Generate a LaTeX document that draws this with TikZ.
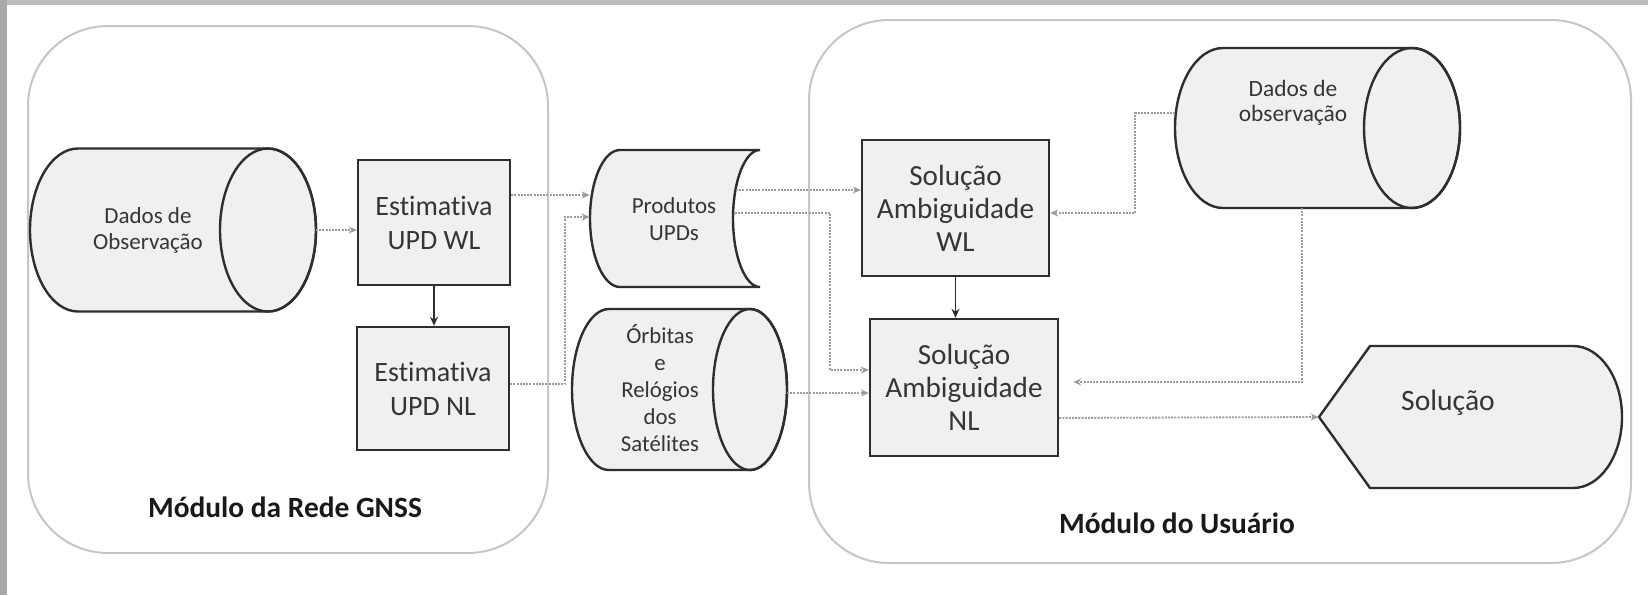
\documentclass[tikz,border=0pt]{standalone}
\usepackage{fontspec}
\setmainfont{Carlito}[Ligatures=NoCommon]
\usetikzlibrary{arrows.meta,calc}
\definecolor{shapefill}{HTML}{F0F0F0}
\definecolor{shapeline}{HTML}{2E2E2E}
\definecolor{conn}{HTML}{9C9C9C}
\definecolor{modline}{HTML}{C6C6C6}
\definecolor{frametop}{HTML}{BDBDBD}
\definecolor{frameleft}{HTML}{A9A9A9}
\definecolor{txt}{HTML}{353535}
\begin{document}
\begin{tikzpicture}[x=0.5pt,y=0.5pt,
  shapestyle/.style={fill=shapefill, draw=shapeline, line width=1.2pt},
  outline/.style={draw=shapeline, line width=1.2pt},
  boxnode/.style={shapestyle, rectangle, align=center, text=txt, inner sep=0pt},
  hold/.style={draw=none, inner sep=0pt, rectangle},
  lbl/.style={align=center, text=txt, inner sep=0pt},
  dotarrow/.style={draw=conn, line width=0.9pt, dash pattern=on 1pt off 0.6pt, -{Stealth[length=4pt,width=3.5pt]}},
  solidarrow/.style={draw=shapeline, line width=0.8pt, -{Stealth[length=4.5pt,width=4pt]}},
  module/.style={draw=modline, line width=1pt, rounded corners=40pt, rectangle, inner sep=0pt},
  modlabel/.style={font=\bfseries\fontsize{14.7}{16}\selectfont, text=black!90, anchor=base, inner sep=0pt}
]
\useasboundingbox (0,0) rectangle (1648,-595);
% frame
\fill[white] (0,0) rectangle (1648,-595);
\fill[frametop] (0,0) rectangle (1648,-5);
\fill[frameleft] (0,0) rectangle (7,-595);

% modules
\node[module, minimum width=260pt, minimum height=263.5pt] (modL) at (288,-289.5) {};
\node[module, minimum width=411pt, minimum height=271.5pt] (modR) at (1220,-291.5) {};
\node[modlabel] (modLlbl) at (285,-517) {Módulo da Rede GNSS};
\node[modlabel] (modRlbl) at (1177,-533) {Módulo do Usuário};

% left cylinder: Dados de Observacao
\filldraw[shapestyle] (78,-148.5) -- (268,-148.5) arc[start angle=90,end angle=-90,x radius=48,y radius=81.5] -- (78,-311.5) arc[start angle=270,end angle=90,x radius=48,y radius=81.5] -- cycle;
\draw[outline] (268,-230) ellipse [x radius=48,y radius=81.5];
\node[hold, minimum width=143pt, minimum height=81.5pt] (dobs) at (173,-230) {};
\node[lbl, font=\fontsize{11.5}{13}\selectfont] (dobstxt) at (148,-230) {Dados de\\Observação};

% Produtos UPDs
\filldraw[shapestyle] (620,-150) -- (760,-150) arc[start angle=90,end angle=270,x radius=27,y radius=68.5] -- (620,-287) arc[start angle=270,end angle=90,x radius=30,y radius=68.5] -- cycle;
\node[hold, minimum width=85pt, minimum height=68.5pt] (prod) at (675,-218.5) {};
\node[lbl, font=\fontsize{11.5}{13.5}\selectfont] (prodtxt) at (674,-219) {Produtos\\UPDs};

% Orbitas cylinder
\filldraw[shapestyle] (609,-309) -- (750,-309) arc[start angle=90,end angle=-90,x radius=37,y radius=80.5] -- (609,-470) arc[start angle=270,end angle=90,x radius=37,y radius=80.5] -- cycle;
\draw[outline] (750,-389.5) ellipse [x radius=37,y radius=80.5];
\node[hold, minimum width=107.5pt, minimum height=80.5pt] (orb) at (679.5,-389.5) {};
\node[lbl, font=\fontsize{11.4}{13.5}\selectfont] (orbtxt) at (660,-388) {Órbitas\\e\\Relógios\\dos\\Satélites};

% right cylinder
\filldraw[shapestyle] (1223,-48) -- (1412,-48) arc[start angle=90,end angle=-90,x radius=48,y radius=80] -- (1223,-208) arc[start angle=270,end angle=90,x radius=48,y radius=80] -- cycle;
\draw[outline] (1412,-128) ellipse [x radius=48,y radius=80];
\node[hold, minimum width=142.5pt, minimum height=80pt] (rdobs) at (1317.5,-128) {};
\node[lbl, font=\fontsize{11.7}{12.5}\selectfont] (rdobstxt) at (1293,-103) {Dados de\\observação};

% Solucao display shape
\filldraw[shapestyle] (1319,-417) -- (1370,-346) -- (1573,-346) arc[start angle=90,end angle=-90,x radius=49,y radius=71] -- (1370,-488) -- cycle;
\node[hold, minimum width=151.5pt, minimum height=71pt] (sol) at (1470.5,-417) {};
\node[lbl, font=\fontsize{14.8}{16}\selectfont, anchor=base] (soltxt) at (1448,-410) {Solução};

% boxes
\node[boxnode, minimum width=76pt, minimum height=62.5pt, font=\fontsize{14}{17}\selectfont] (ewl) at (434,-222.5) {Estimativa\\UPD WL};
\node[boxnode, minimum width=76pt, minimum height=61.5pt, font=\fontsize{14}{17}\selectfont] (enl) at (433,-388.5) {Estimativa\\UPD NL};
\node[boxnode, minimum width=93.5pt, minimum height=68pt, font=\fontsize{14.6}{16.5}\selectfont] (swl) at (955.5,-208) {Solução\\Ambiguidade\\WL};
\node[boxnode, minimum width=94pt, minimum height=68.5pt, font=\fontsize{14.6}{16.5}\selectfont] (snl) at (964,-387.5) {Solução\\Ambiguidade\\NL};

% attach points on irregular shapes
\coordinate (dobsE) at (316,-230);
\coordinate (prodA) at (736,-190);
\coordinate (prodB) at (735,-213);
\coordinate (orbE) at (787,-393);
\coordinate (rdW) at (1175,-113);
\coordinate (rdS) at (1302,-208);

% connectors
\draw[dotarrow] (dobsE) -- (dobsE -| ewl.west);
\draw[solidarrow] (ewl.south) -- (ewl.south |- enl.north);
\draw[dotarrow] (ewl.east |- 0,-195) -- (prod.west |- 0,-195);
\draw[dotarrow] (enl.east |- 0,-384) -- ++(55,0) |- (prod.west |- 0,-217);
\draw[dotarrow] (prodA) -- (prodA -| swl.west);
\draw[dotarrow] (prodB) -- ++(95,0) |- (snl.west |- 0,-370);
\draw[dotarrow] (orbE) -- (orbE -| snl.west);
\draw[solidarrow] (swl.south) -- (swl.south |- snl.north);
\draw[dotarrow] (rdW) -- ++(-40,0) |- (swl.east |- 0,-213);
\draw[dotarrow, shorten >=7pt] (rdS) |- (snl.east |- 0,-382);
\draw[dotarrow] (snl.east |- 0,-418) -- (sol.west);
\end{tikzpicture}
\end{document}
